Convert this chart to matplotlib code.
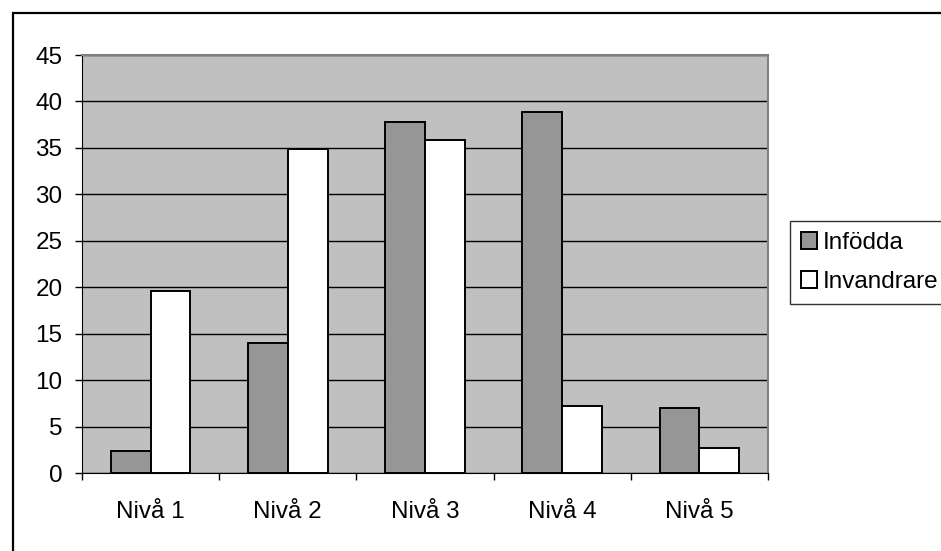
import matplotlib.pyplot as plt
import numpy as np
from matplotlib.patches import Rectangle

levels = ["Nivå 1", "Nivå 2", "Nivå 3", "Nivå 4", "Nivå 5"]
infodda = [2.4, 14.0, 37.8, 38.9, 7.0]
invandrare = [19.6, 34.9, 35.9, 7.2, 2.7]
yticks = [0, 5, 10, 15, 20, 25, 30, 35, 40, 45]

plt.rcParams['font.family'] = ['Liberation Sans', 'DejaVu Sans']

fig = plt.figure(figsize=(9.41, 5.51), dpi=100)
# outer chart border (cut off at the right/bottom like the original)
fig.patches.append(Rectangle((13/941, -0.1), 1.2, (551-13)/551 + 0.1,
                             transform=fig.transFigure, fill=False,
                             edgecolor='black', linewidth=1.6))

ax = fig.add_axes([82/941, 78/551, 686/941, 418/551])
ax.set_facecolor('#c0c0c0')

x = np.arange(len(levels))
w = 0.29
ax.bar(x - w/2, infodda, w, color='#969696', edgecolor='black', linewidth=1.4,
       label='Infödda', zorder=3)
ax.bar(x + w/2, invandrare, w, color='white', edgecolor='black', linewidth=1.4,
       label='Invandrare', zorder=3)

ax.set_xlim(-0.5, len(levels) - 0.5)
ax.set_ylim(0, 45)
ax.set_yticks(yticks)
ax.yaxis.grid(True, color='black', linewidth=1.0, zorder=1)
ax.set_axisbelow(True)

ax.set_xticks(np.arange(len(levels) + 1) - 0.5)
ax.set_xticklabels([])
ax.set_xticks(x, minor=True)
ax.set_xticklabels(levels, minor=True)
ax.tick_params(axis='x', which='major', direction='out', length=5, width=1)
ax.tick_params(axis='x', which='minor', length=0, pad=20, labelsize=17.5)
ax.tick_params(axis='y', direction='out', length=5, width=1, pad=9, labelsize=17.5)

for s in ['top', 'right']:
    ax.spines[s].set_color('#808080')
    ax.spines[s].set_linewidth(1.5)
ax.spines['left'].set_color('black')
ax.spines['bottom'].set_color('black')

leg = ax.legend(loc='upper left', bbox_to_anchor=(790/941, 1 - 221/551),
                bbox_transform=fig.transFigure, fontsize=17.5, frameon=True,
                fancybox=False, edgecolor='black', borderaxespad=0,
                handlelength=0.66, handleheight=0.66, handletextpad=0.25,
                labelspacing=0.7, borderpad=0.45)
leg.get_frame().set_linewidth(1.0)

fig.savefig('out.png', dpi=100)
